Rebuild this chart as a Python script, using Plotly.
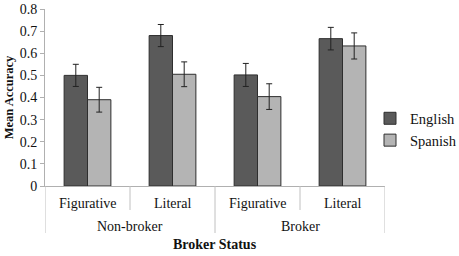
import plotly.graph_objects as go

groups = ["Non-broker", "Non-broker", "Broker", "Broker"]
conditions = ["Figurative", "Literal", "Figurative", "Literal"]
group_labels = ["Non-broker", "Broker"]
english = [0.50, 0.68, 0.502, 0.666]
spanish = [0.39, 0.505, 0.404, 0.633]
english_err = [0.05, 0.05, 0.052, 0.051]
spanish_err = [0.056, 0.056, 0.058, 0.059]
yticks = [0, 0.1, 0.2, 0.3, 0.4, 0.5, 0.6, 0.7, 0.8]

xpos = list(range(len(conditions)))
FONT = "Liberation Serif"

fig = go.Figure()
fig.add_trace(go.Bar(
    x=xpos, y=english, name="English",
    marker=dict(color="#5a5a5a", line=dict(color="#2e2e2e", width=1)),
    error_y=dict(type="data", array=english_err, color="#222", thickness=1, width=3),
))
fig.add_trace(go.Bar(
    x=xpos, y=spanish, name="Spanish",
    marker=dict(color="#b4b4b4", line=dict(color="#2e2e2e", width=1)),
    error_y=dict(type="data", array=spanish_err, color="#222", thickness=1, width=3),
))

annotations = []
for i, c in enumerate(conditions):
    annotations.append(dict(x=i, y=0, xref="x", yref="paper", text=c, showarrow=False,
                            yanchor="middle", yshift=-17, font=dict(family=FONT, size=14, color="#111")))
for gi, g in enumerate(group_labels):
    annotations.append(dict(x=gi * 2 + 0.5, y=0, xref="x", yref="paper", text=g, showarrow=False,
                            yanchor="middle", yshift=-40, font=dict(family=FONT, size=14, color="#111")))
annotations.append(dict(x=1.5, y=0, xref="x", yref="paper", text="<b>Broker Status</b>", showarrow=False,
                        yanchor="middle", yshift=-58, font=dict(family=FONT, size=14, color="#111")))

shapes = []
ph = 177.0
for b in [-0.5, 0.5, 1.5, 2.5, 3.5]:
    inner = b in (0.5, 2.5)
    depth = 24 if inner else 47
    shapes.append(dict(type="line", xref="x", yref="paper", x0=b, x1=b, y0=0, y1=-depth / ph,
                       line=dict(color="#c0c0c0", width=1)))

fig.update_layout(
    width=459, height=256,
    margin=dict(l=45, r=74, t=9, b=70, autoexpand=False),
    paper_bgcolor="white", plot_bgcolor="white",
    barmode="group", bargap=0.45, bargroupgap=0,
    font=dict(family=FONT, size=14, color="#111"),
    showlegend=True,
    legend=dict(x=(370 - 45) / 340, y=0.32, xanchor="left", yanchor="middle",
                font=dict(family=FONT, size=14.5, color="#111"),
                itemwidth=30, tracegroupgap=0, bgcolor="rgba(0,0,0,0)"),
    annotations=annotations,
    shapes=shapes,
)
fig.update_xaxes(range=[-0.5, 3.5], showticklabels=False, showgrid=False,
                 zeroline=False, automargin=False,
                 showline=True, linecolor="#b0b0b0", linewidth=1, ticks="")
fig.update_yaxes(range=[0, 0.8], tickvals=yticks, ticktext=[("0" if v == 0 else f"{v:.1f}") for v in yticks],
                 showgrid=False, zeroline=False, showline=True, linecolor="#b0b0b0", linewidth=1,
                 automargin=False,
                 ticks="outside", ticklen=4, tickcolor="#b0b0b0",
                 tickfont=dict(family=FONT, size=14, color="#111"),
                 title=dict(text="<b>Mean Accuracy</b>", font=dict(family=FONT, size=12.5, color="#111"), standoff=3))

fig.write_html("out.html", config={"displayModeBar": False},
               post_script="document.body.style.margin='0';document.body.style.overflow='hidden';")
